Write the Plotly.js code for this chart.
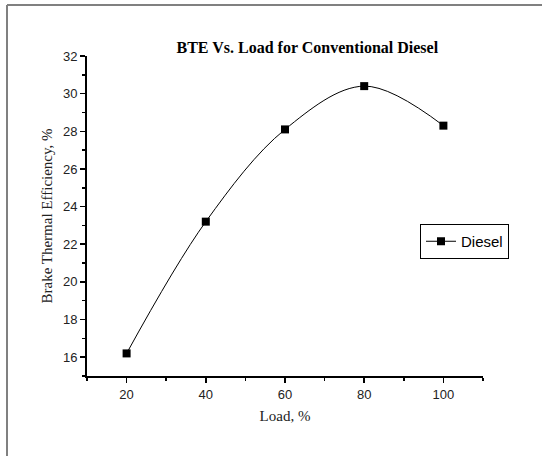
<!DOCTYPE html>
<html>
<head>
<meta charset="utf-8">
<script src="https://cdn.plot.ly/plotly-3.0.1.min.js"></script>
<style>html,body{margin:0;padding:0;background:#fff;}</style>
</head>
<body>
<div id="chart" style="width:542px;height:456px;"></div>
<script>
const loadPct = [20, 40, 60, 80, 100];
const bteDiesel = [16.2, 23.2, 28.1, 30.4, 28.3];
const seriesName = "Diesel";
const chartTitle = "BTE Vs. Load for Conventional Diesel";
const xTitle = "Load, %";
const yTitle = "Brake Thermal Efficiency, %";

const trace = {
  x: loadPct,
  y: bteDiesel,
  name: seriesName,
  type: "scatter",
  mode: "lines+markers",
  line: {shape: "spline", smoothing: 1, color: "#000", width: 1},
  marker: {symbol: "square", size: 8, color: "#000"}
};

const layout = {
  width: 542, height: 456,
  margin: {l: 87, r: 59, t: 56, b: 80},
  paper_bgcolor: "#fff", plot_bgcolor: "#fff",
  showlegend: true,
  title: {
    text: "<b>" + chartTitle + "</b>",
    font: {family: "Liberation Serif", size: 16, color: "#000"},
    xref: "container", yref: "container",
    x: 0.567, xanchor: "center", y: 1 - 47/456, yanchor: "middle"
  },
  xaxis: {
    range: [10, 110],
    tickvals: [20, 40, 60, 80, 100],
    showline: true, linecolor: "#000", linewidth: 2,
    ticks: "outside", ticklen: 5, tickwidth: 1.5, tickcolor: "#000",
    minor: {ticks: "outside", tickvals: [10, 30, 50, 70, 90, 110], ticklen: 3, tickwidth: 1.5, tickcolor: "#000"},
    showgrid: false, zeroline: false,
    tickfont: {family: "Liberation Sans", size: 13, color: "#222"},
    title: {text: xTitle, font: {family: "Liberation Serif", size: 15, color: "#222"}, standoff: 10}
  },
  yaxis: {
    range: [15, 32],
    tickvals: [16, 18, 20, 22, 24, 26, 28, 30, 32],
    showline: true, linecolor: "#000", linewidth: 2,
    ticks: "outside", ticklen: 5, tickwidth: 1.5, tickcolor: "#000",
    minor: {ticks: "outside", tickvals: [15, 17, 19, 21, 23, 25, 27, 29, 31], ticklen: 3, tickwidth: 1.5, tickcolor: "#000"},
    showgrid: false, zeroline: false,
    tickfont: {family: "Liberation Sans", size: 13, color: "#222"},
    title: {text: yTitle, font: {family: "Liberation Serif", size: 15, color: "#222"}, standoff: 7}
  },
  legend: {
    x: (420 - 87) / 396, xanchor: "left",
    y: (376 - 224) / 320, yanchor: "top",
    bordercolor: "#000", borderwidth: 1, bgcolor: "#fff",
    font: {family: "Liberation Sans", size: 15, color: "#000"}
  },
  shapes: [
    {type: "line", xref: "paper", yref: "paper",
     x0: (7 - 87) / 396, x1: (7 - 87) / 396, y0: (376 - 5) / 320, y1: (376 - 456) / 320,
     line: {color: "#808080", width: 2}},
    {type: "line", xref: "paper", yref: "paper",
     x0: (7 - 87) / 396, x1: (542 - 87) / 396, y0: (376 - 5) / 320, y1: (376 - 5) / 320,
     line: {color: "#808080", width: 2}}
  ]
};

Plotly.newPlot("chart", [trace], layout, {displayModeBar: false, staticPlot: true});
</script>
</body>
</html>
